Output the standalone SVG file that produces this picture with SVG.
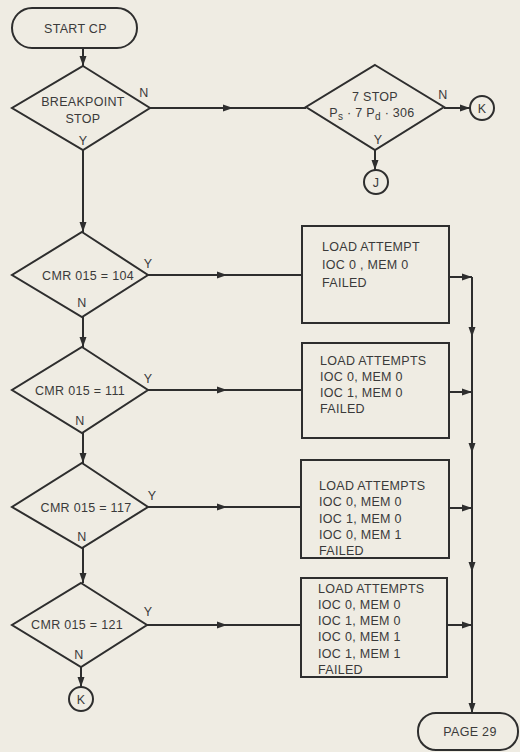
<svg xmlns="http://www.w3.org/2000/svg" width="520" height="752" viewBox="0 0 520 752">
<defs>
<marker id="ah" markerUnits="userSpaceOnUse" markerWidth="11" markerHeight="8" refX="10" refY="4" orient="auto">
<path d="M0,0.5 L10,4 L0,7.5 z" fill="#2e2e2e"/>
</marker>
<style>
.bg{fill:#efece3}
.sh{fill:none;stroke:#2e2e2e;stroke-width:2}
.ln{fill:none;stroke:#2e2e2e;stroke-width:2}
.ar{marker-end:url(#ah)}
.mid{marker-mid:url(#ah)}
text{font-family:"Liberation Sans",Arial,sans-serif;font-size:12.5px;fill:#3a3a3a;letter-spacing:0.3px}
.c{text-anchor:middle}
.sm{font-size:12px}
</style>
</defs>
<rect class="bg" x="0" y="0" width="520" height="752"/>

<g id="connectors">
<path class="ln ar" d="M83,48 L83,66"/>
<path class="ln mid" d="M150,108 L233,108 L306,108"/>
<path class="ln ar" d="M444,108 L470,108"/>
<path class="ln ar" d="M375,150 L375,170"/>
<path class="ln ar" d="M83,150 L83,232"/>
<path class="ln mid" d="M148,275 L227,275 L302,275"/>
<path class="ln ar" d="M449,277 L472,277"/>
<path class="ln ar" d="M83,317 L83,347"/>
<path class="ln mid" d="M148,390 L227,390 L302,390"/>
<path class="ln ar" d="M449,392 L472,392"/>
<path class="ln ar" d="M83,433 L83,463"/>
<path class="ln mid" d="M148,507 L227,507 L301,507"/>
<path class="ln ar" d="M449,508 L472,508"/>
<path class="ln ar" d="M83,548 L83,583"/>
<path class="ln mid" d="M147,625 L227,625 L301,625"/>
<path class="ln ar" d="M447,625 L472,625"/>
<path class="ln ar" d="M81,667 L81,687"/>
<path class="ln mid ar" d="M472,277 L472,337 L472,453 L472,572 L472,713"/>
</g>

<g id="start">
<rect class="sh" x="12" y="8" width="125" height="40" rx="20"/>
<text x="44" y="33">START CP</text>
</g>

<g id="breakpoint">
<polygon class="sh" points="83,66 150,108 83,150 12,108"/>
<text class="c" x="83" y="106">BREAKPOINT</text>
<text class="c" x="83" y="123">STOP</text>
<text class="c" x="144" y="97">N</text>
<text class="c" x="83" y="145">Y</text>
</g>

<g id="stop7">
<polygon class="sh" points="375,65 444,107 375,150 306,107"/>
<text class="c" x="375" y="101">7 STOP</text>
<text class="c" x="372" y="117">P<tspan font-size="10" dy="3">s</tspan><tspan dy="-3"> · 7 P</tspan><tspan font-size="10" dy="3">d</tspan><tspan dy="-3"> · 306</tspan></text>
<text class="c" x="443" y="99">N</text>
<text class="c" x="378" y="144">Y</text>
</g>

<g id="connK1">
<circle class="sh" cx="482" cy="108" r="12"/>
<text class="c" x="482" y="112.5">K</text>
</g>

<g id="connJ">
<circle class="sh" cx="376" cy="182" r="12"/>
<text class="c" x="376" y="186.5">J</text>
</g>

<g id="cmr104">
<polygon class="sh" points="82,232 148,275 82,317 12,275"/>
<text class="c" x="88" y="280">CMR 015 = 104</text>
<text class="c" x="148" y="268">Y</text>
<text class="c" x="82" y="307">N</text>
</g>

<g id="box1">
<rect class="sh" x="302" y="226" width="147" height="97"/>
<text x="322" y="251">LOAD ATTEMPT</text>
<text x="322" y="269">IOC 0 , MEM 0</text>
<text x="322" y="287">FAILED</text>
</g>

<g id="cmr111">
<polygon class="sh" points="82,347 148,390 82,433 12,390"/>
<text class="c" x="80" y="395">CMR 015 = 111</text>
<text class="c" x="148" y="383">Y</text>
<text class="c" x="80" y="425">N</text>
</g>

<g id="box2">
<rect class="sh" x="302" y="343" width="147" height="95"/>
<text x="320" y="365">LOAD ATTEMPTS</text>
<text x="320" y="381">IOC 0, MEM 0</text>
<text x="320" y="397">IOC 1, MEM 0</text>
<text x="320" y="413">FAILED</text>
</g>

<g id="cmr117">
<polygon class="sh" points="82,463 148,507 82,548 12,507"/>
<text class="c" x="86" y="512">CMR 015 = 117</text>
<text class="c" x="152" y="500">Y</text>
<text class="c" x="82" y="541">N</text>
</g>

<g id="box3">
<rect class="sh" x="301" y="460" width="148" height="98"/>
<text x="319" y="490">LOAD ATTEMPTS</text>
<text x="319" y="506">IOC 0, MEM 0</text>
<text x="319" y="523">IOC 1, MEM 0</text>
<text x="319" y="539">IOC 0, MEM 1</text>
<text x="319" y="555">FAILED</text>
</g>

<g id="cmr121">
<polygon class="sh" points="81,583 147,625 81,667 12,625"/>
<text class="c" x="77" y="629">CMR 015 = 121</text>
<text class="c" x="148" y="616">Y</text>
<text class="c" x="79" y="659">N</text>
</g>

<g id="box4">
<rect class="sh" x="301" y="578" width="146" height="99"/>
<text x="318" y="593">LOAD ATTEMPTS</text>
<text x="318" y="609">IOC 0, MEM 0</text>
<text x="318" y="625">IOC 1, MEM 0</text>
<text x="318" y="641">IOC 0, MEM 1</text>
<text x="318" y="658">IOC 1, MEM 1</text>
<text x="318" y="674">FAILED</text>
</g>

<g id="connK2">
<circle class="sh" cx="81" cy="699" r="12"/>
<text class="c" x="81" y="703.5">K</text>
</g>

<g id="page29">
<rect class="sh" x="418" y="713" width="100" height="37" rx="18"/>
<text class="c" x="470" y="736">PAGE 29</text>
</g>
</svg>
